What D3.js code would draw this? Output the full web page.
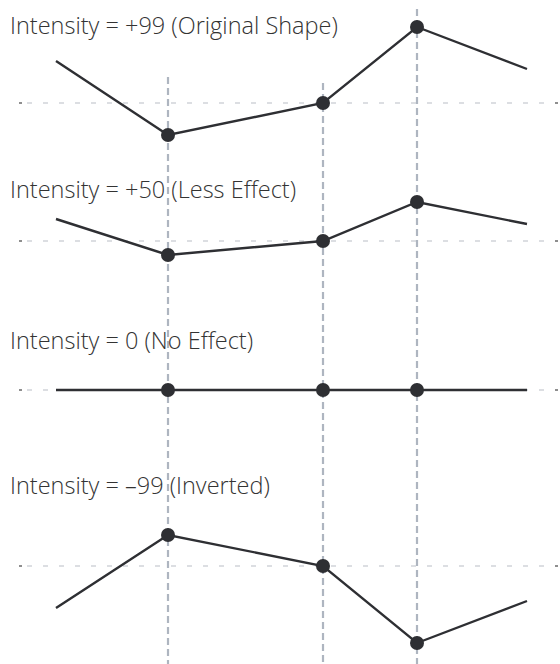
<!DOCTYPE html>
<html><head><meta charset="utf-8">
<script src="https://cdn.jsdelivr.net/npm/d3@7"></script>
<style>body{margin:0;background:#fff;}svg{display:block;}</style>
</head><body>
<script>
// ---- data ----
const xPositions = [0, 112, 267, 361, 471];       // time positions of envelope segments
const markedIndex = [1, 2, 3];                      // breakpoints drawn with dots
const titles = [
  "Intensity = +99 (Original Shape)",
  "Intensity = +50 (Less Effect)",
  "Intensity = 0 (No Effect)",
  "Intensity = \u201399 (Inverted)"
];
const valuesPlus99 = [42, -32, 0, 76, 34];
const valuesPlus50 = [22, -14, 0, 39, 17];
const valuesZero   = [0, 0, 0, 0, 0];
const valuesMinus99 = [-42, 31, 0, -77, -35];
const guideTopValues = [26, 20, 94];               // where vertical guides begin (top-panel units)

// ---- layout ----
const W = 560, H = 664;
const panels = [
  {title: titles[0], values: valuesPlus99, base: 103, titleY: 34},
  {title: titles[1], values: valuesPlus50, base: 241, titleY: 198},
  {title: titles[2], values: valuesZero,   base: 390, titleY: 349},
  {title: titles[3], values: valuesMinus99, base: 566, titleY: 494}
];

const svg = d3.select("body").append("svg").attr("width", W).attr("height", H);
const x = d3.scaleLinear().domain([0, 471]).range([56, 527]);
const y = d3.scaleLinear().domain([-100, 100]).range([100, -100]);

// vertical guides
const guides = svg.append("g");
markedIndex.forEach((idx, i) => {
  guides.append("line")
    .attr("x1", x(xPositions[idx])).attr("x2", x(xPositions[idx]))
    .attr("y1", panels[0].base + y(guideTopValues[i])).attr("y2", H)
    .attr("stroke", "#aeb5c0").attr("stroke-width", 2.2)
    .attr("stroke-dasharray", "7,4");
});

panels.forEach(p => {
  const g = svg.append("g").attr("transform", `translate(0,${p.base})`);
  // zero line
  g.append("line").attr("x1", 24).attr("x2", 553).attr("y1", y(0)).attr("y2", y(0))
    .attr("stroke", "#b9bec6").attr("stroke-width", 1.2).attr("stroke-dasharray", "5,11")
    .attr("stroke-dashoffset", -3);
  g.append("line").attr("x1", 19).attr("x2", 22).attr("y1", y(0)).attr("y2", y(0))
    .attr("stroke", "#444").attr("stroke-width", 1.2);
  g.append("line").attr("x1", 555).attr("x2", 558).attr("y1", y(0)).attr("y2", y(0))
    .attr("stroke", "#444").attr("stroke-width", 1.2);

  const line = d3.line().x((d, i) => x(xPositions[i])).y(d => y(d));
  g.append("path").datum(p.values).attr("d", line)
    .attr("fill", "none").attr("stroke", "#2e2f33").attr("stroke-width", 2.4);
  g.selectAll("circle").data(markedIndex).join("circle")
    .attr("cx", i => x(xPositions[i])).attr("cy", i => y(p.values[i]))
    .attr("r", 7).attr("fill", "#2e2f33");

  svg.append("text").attr("x", 10).attr("y", p.titleY).text(p.title)
    .attr("font-family", "'Open Sans', sans-serif").attr("font-size", 23.5)
    .attr("font-weight", 300)
    .attr("fill", "#333");
});
</script>
</body></html>
